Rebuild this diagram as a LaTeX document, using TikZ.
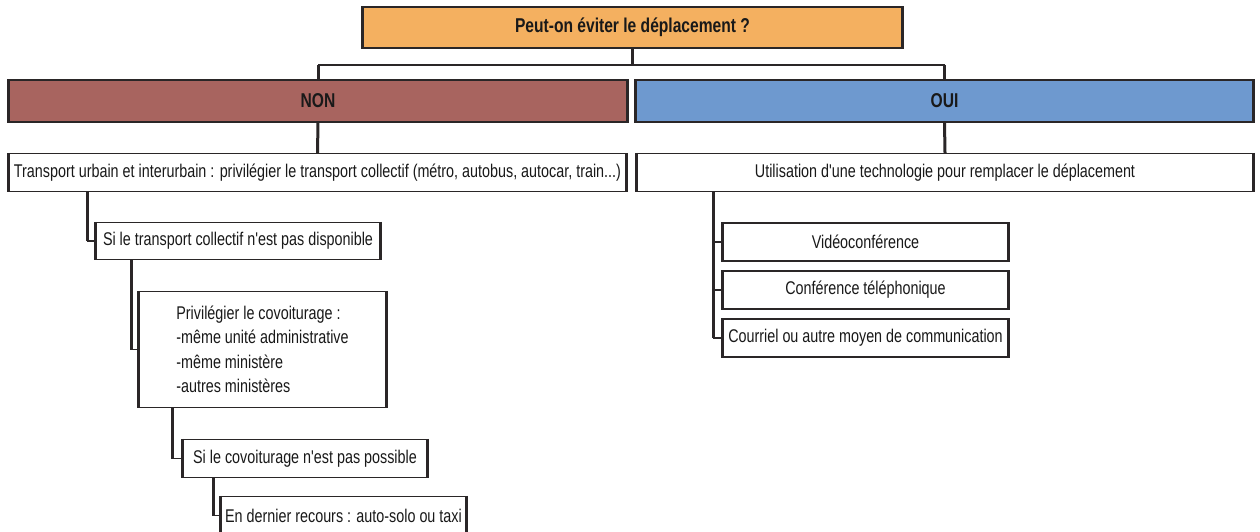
\documentclass[tikz,border=0pt]{standalone}
\usepackage{fontspec}
\setmainfont{Liberation Sans}[FakeStretch=0.78,Ligatures=TeXOff]
\definecolor{edge}{HTML}{2A2627}
\definecolor{orangeT}{HTML}{F4B060}
\definecolor{nonC}{HTML}{A8645F}
\definecolor{ouiC}{HTML}{6E99CF}
\begin{document}
\begin{tikzpicture}[x=1pt,y=-1pt,
  bx/.style={draw=edge,line width=1.3pt,rectangle,inner sep=0pt,text=black!90,
    font=\fontsize{18.4}{24.5}\selectfont},
  side/.style={draw=edge,line width=3pt},
  vc/.style={draw=edge,line width=3pt},
  hc/.style={draw=edge,line width=1.4pt},
  hd/.style={font=\fontsize{20}{24}\selectfont\bfseries}]
\useasboundingbox[fill=white] (0,0) rectangle (1260,532);
% boxes
\node[bx,hd,fill=orangeT,minimum width=539pt,minimum height=41pt] (title) at (632.5,27.5) {Peut-on éviter le déplacement ?};
\node[bx,hd,fill=nonC,minimum width=618pt,minimum height=42pt] (non) at (318,101) {NON};
\node[bx,hd,fill=ouiC,minimum width=617pt,minimum height=42pt] (oui) at (944.5,101) {OUI};
\node[bx,fill=white,minimum width=617pt,minimum height=38pt] (trans) at (317.5,172.5) {Transport urbain et interurbain : privilégier le transport collectif (métro, autobus, autocar, train...)};
\node[bx,fill=white,minimum width=616pt,minimum height=38pt] (util) at (945,172.5) {Utilisation d'une technologie pour remplacer le déplacement};
\node[bx,fill=white,minimum width=284pt,minimum height=37pt] (si1) at (238,241) {Si le transport collectif n'est pas disponible};
\node[bx,fill=white,minimum width=247pt,minimum height=116pt,align=left] (priv) at (262.5,349.5) {Privilégier le covoiturage :\\-même unité administrative\\-même ministère\\-autres ministères};
\node[bx,fill=white,minimum width=244pt,minimum height=38pt] (si2) at (305,458.5) {Si le covoiturage n'est pas possible};
\node[bx,fill=white,minimum width=245pt,minimum height=38pt] (der) at (343.5,515.5) {En dernier recours : auto-solo ou taxi};
\node[bx,fill=white,minimum width=285pt,minimum height=38pt] (video) at (865.5,242) {Vidéoconférence};
\node[bx,fill=white,minimum width=285pt,minimum height=38pt] (conf) at (865.5,290) {Conférence téléphonique};
\node[bx,fill=white,minimum width=285pt,minimum height=38pt] (cour) at (865.5,338) {Courriel ou autre moyen de communication};
% thick sides
\foreach \n in {title,non,oui,trans,util,si1,priv,si2,der,video,conf,cour}
  \draw[side] (\n.north west) -- (\n.south west) (\n.north east) -- (\n.south east);
% top connectors
\coordinate (j) at (0,65);
\draw[vc] (title.south) -- (title.south |- j);
\draw[hc] (non.north |- j) -- (oui.north |- j);
\draw[vc] (non.north |- j) -- (non.north);
\draw[vc] (oui.north |- j) -- (oui.north);
\draw[vc] (non.south) -- (trans.north);
\draw[vc] (oui.south) -- (util.north);
% left tree
\coordinate (a1) at (87,0);
\draw[vc] (a1 |- trans.south) -- (a1 |- si1.west);
\draw[hc] (a1 |- si1.west) -- (si1.west);
\coordinate (a2) at (131,0);
\draw[vc] (a2 |- si1.south) -- (a2 |- priv.west);
\draw[hc] (a2 |- priv.west) -- (priv.west);
\coordinate (a3) at (172,0);
\draw[vc] (a3 |- priv.south) -- (a3 |- si2.west);
\draw[hc] (a3 |- si2.west) -- (si2.west);
\coordinate (a4) at (213,0);
\draw[vc] (a4 |- si2.south) -- (a4 |- der.west);
\draw[hc] (a4 |- der.west) -- (der.west);
% right tree
\coordinate (b1) at (713,0);
\draw[vc] (b1 |- util.south) -- (b1 |- cour.west);
\draw[hc] (b1 |- video.west) -- (video.west);
\draw[hc] (b1 |- conf.west) -- (conf.west);
\draw[hc] (b1 |- cour.west) -- (cour.west);
\end{tikzpicture}
\end{document}
